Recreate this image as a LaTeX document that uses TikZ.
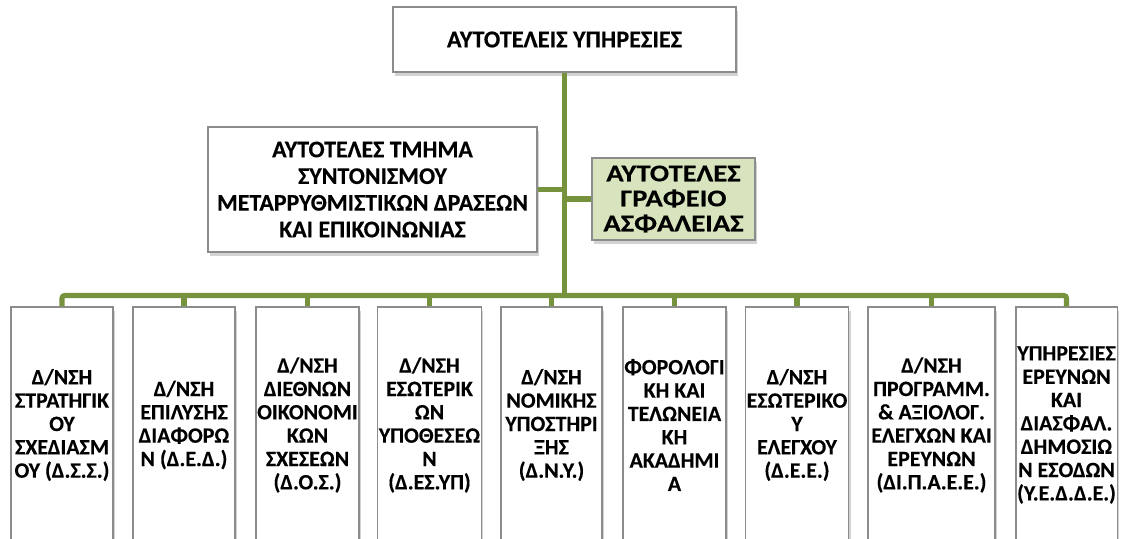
\documentclass[tikz,border=0pt]{standalone}
\usepackage{fontspec}
\setmainfont{Carlito}[BoldFeatures={FakeBold=0.3}]
\newfontfamily\widefont{Carlito}[FakeStretch=1.19, BoldFeatures={FakeBold=0.3}]
\usetikzlibrary{shadows}
\definecolor{olive}{HTML}{76923C}
\definecolor{palegreen}{HTML}{D7E4BD}
\definecolor{boxline}{HTML}{8C8C8C}
\tikzset{
  unitbox/.style={draw=boxline, line width=1.1pt, fill=white, align=center,
    inner sep=1pt, font=\bfseries,
    drop shadow={opacity=0.35, shadow xshift=1.5pt, shadow yshift=-3pt}},
  dept/.style={unitbox, minimum height=177pt,
    font=\bfseries\fontsize{16.4}{17.5}\selectfont},
  conn/.style={draw=olive, line width=3.8pt},
}
\begin{document}
\begin{tikzpicture}[x=0.75pt, y=-0.75pt]
  \useasboundingbox (0,0) rectangle (1121,539);
  \clip (0,0) rectangle (1121,539);

  % head office
  \node[unitbox, minimum width=257pt, minimum height=49pt,
        font=\bfseries\fontsize{18.2}{21}\selectfont]
    (top) at (564.5,39.5) {ΑΥΤΟΤΕΛΕΙΣ ΥΠΗΡΕΣΙΕΣ};

  % staff units beside the trunk
  \node[unitbox, minimum width=247pt, minimum height=94pt,
        font=\bfseries\fontsize{17.9}{20}\selectfont]
    (coord) at (372.5,189.5)
    {ΑΥΤΟΤΕΛΕΣ ΤΜΗΜΑ\\ ΣΥΝΤΟΝΙΣΜΟΥ\\ ΜΕΤΑΡΡΥΘΜΙΣΤΙΚΩΝ ΔΡΑΣΕΩΝ\\ ΚΑΙ ΕΠΙΚΟΙΝΩΝΙΑΣ};
  \node[unitbox, fill=palegreen, minimum width=122pt, minimum height=61.5pt,
        font=\widefont\bfseries\fontsize{18}{18.75}\selectfont]
    (sec) at (673.5,199) {ΑΥΤΟΤΕΛΕΣ\\ ΓΡΑΦΕΙΟ\\ ΑΣΦΑΛΕΙΑΣ};

  % directorates
  \node[dept, minimum width=76.5pt] (b1) at (62,425)
    {Δ/ΝΣΗ\\ ΣΤΡΑΤΗΓΙΚ\\ ΟΥ\\ ΣΧΕΔΙΑΣΜ\\ ΟΥ (Δ.Σ.Σ.)};
  \node[dept, minimum width=76.5pt] (b2) at (184,425)
    {Δ/ΝΣΗ\\ ΕΠΙΛΥΣΗΣ\\ ΔΙΑΦΟΡΩ\\ Ν (Δ.Ε.Δ.)};
  \node[dept, minimum width=77pt] (b3) at (307.5,425)
    {Δ/ΝΣΗ\\ ΔΙΕΘΝΩΝ\\ ΟΙΚΟΝΟΜΙ\\ ΚΩΝ\\ ΣΧΕΣΕΩΝ\\ (Δ.Ο.Σ.)};
  \node[dept, minimum width=77pt] (b4) at (429.5,425)
    {Δ/ΝΣΗ\\ ΕΣΩΤΕΡΙΚ\\ ΩΝ\\ ΥΠΟΘΕΣΕΩ\\ Ν\\ (Δ.ΕΣ.ΥΠ)};
  \node[dept, minimum width=76pt] (b5) at (551.5,425)
    {Δ/ΝΣΗ\\ ΝΟΜΙΚΗΣ\\ ΥΠΟΣΤΗΡΙ\\ ΞΗΣ\\ (Δ.Ν.Υ.)};
  \node[dept, minimum width=76pt] (b6) at (674.5,425)
    {ΦΟΡΟΛΟΓΙ\\ ΚΗ ΚΑΙ\\ ΤΕΛΩΝΕΙΑ\\ ΚΗ\\ ΑΚΑΔΗΜΙ\\ Α};
  \node[dept, minimum width=76.5pt] (b7) at (797,425)
    {Δ/ΝΣΗ\\ ΕΣΩΤΕΡΙΚΟ\\ Υ\\ ΕΛΕΓΧΟΥ\\ (Δ.Ε.Ε.)};
  \node[dept, minimum width=95pt] (b8) at (931.5,425)
    {Δ/ΝΣΗ\\ ΠΡΟΓΡΑΜΜ.\\ \& ΑΞΙΟΛΟΓ.\\ ΕΛΕΓΧΩΝ ΚΑΙ\\ ΕΡΕΥΝΩΝ\\ (ΔΙ.Π.Α.Ε.Ε.)};
  \node[dept, minimum width=76pt] (b9) at (1066.5,425)
    {ΥΠΗΡΕΣΙΕΣ\\ ΕΡΕΥΝΩΝ\\ ΚΑΙ\\ ΔΙΑΣΦΑΛ.\\ ΔΗΜΟΣΙΩ\\ Ν ΕΣΟΔΩΝ\\ (Υ.Ε.Δ.Δ.Ε.)};

  % connectors: trunk, side branches, bus and drops
  \coordinate (bus) at (565,295.5);
  \draw[conn] (top.south) -- (top.south |- bus);
  \draw[conn] (coord.east) -- (coord.east -| top.south);
  \draw[conn] (sec.west) -- (sec.west -| top.south);
  \draw[conn, rounded corners=2pt] (b1.north) -- (b1.north |- bus)
    -- (b9.north |- bus) -- (b9.north);
  \foreach \b in {b2,b3,b4,b5,b6,b7,b8}
    \draw[conn] (\b.north) -- (\b.north |- bus);
\end{tikzpicture}
\end{document}
